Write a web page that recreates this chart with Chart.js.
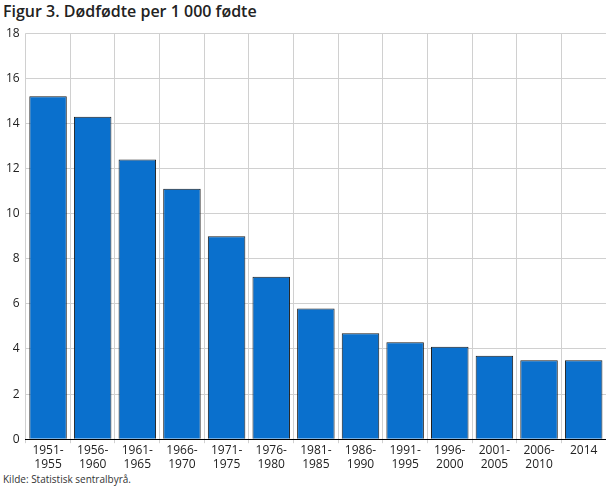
<!DOCTYPE html>
<html>
<head>
<meta charset="utf-8">
<script src="https://cdn.jsdelivr.net/npm/chart.js@4/dist/chart.umd.min.js"></script>
<style>
  body { margin: 0; background: #fff; font-family: "Open Sans", sans-serif; }
  #wrap { position: relative; width: 610px; height: 488px; }
  h1 { position: absolute; left: 3px; top: 0; margin: 0; font-size: 16px; font-weight: 600; color: #222; }
  #src { position: absolute; left: 3px; top: 472px; font-size: 10px; color: #333; }
  #box { position: absolute; left: 0; top: 20px; width: 606px; height: 452px; }
</style>
</head>
<body>
<div id="wrap">
  <h1>Figur 3. Dødfødte per 1 000 fødte</h1>
  <div id="box"><canvas id="c"></canvas></div>
  <div id="src">Kilde: Statistisk sentralbyrå.</div>
</div>
<script>
// Periodes et valeurs
const periods = [["1951-","1955"],["1956-","1960"],["1961-","1965"],["1966-","1970"],["1971-","1975"],["1976-","1980"],["1981-","1985"],["1986-","1990"],["1991-","1995"],["1996-","2000"],["2001-","2005"],["2006-","2010"],"2014"];
const stillbirths = [15.2, 14.3, 12.4, 11.1, 9.0, 7.2, 5.8, 4.7, 4.3, 4.1, 3.7, 3.5, 3.5];

new Chart(document.getElementById('c'), {
  type: 'bar',
  data: {
    labels: periods,
    datasets: [{
      data: stillbirths,
      backgroundColor: '#0a70cd',
      borderColor: '#1a1a1a',
      borderWidth: 1,
      categoryPercentage: 0.84,
      barPercentage: 1
    }]
  },
  options: {
    responsive: true,
    maintainAspectRatio: false,
    animation: false,
    plugins: { legend: { display: false }, tooltip: { enabled: false } },
    scales: {
      x: {
        grid: { color: '#d0d0d0', offset: true, drawTicks: true, tickLength: 4 },
        border: { color: '#000' },
        ticks: { color: '#222', font: { family: 'Open Sans', size: 12 }, maxRotation: 0, autoSkip: false, padding: 0 }
      },
      y: {
        min: 0, max: 18,
        grid: { color: '#d0d0d0', drawTicks: false },
        border: { display: false },
        ticks: { stepSize: 2, color: '#222', font: { family: 'Open Sans', size: 12 }, padding: 6 }
      }
    }
  }
});
</script>
</body>
</html>
